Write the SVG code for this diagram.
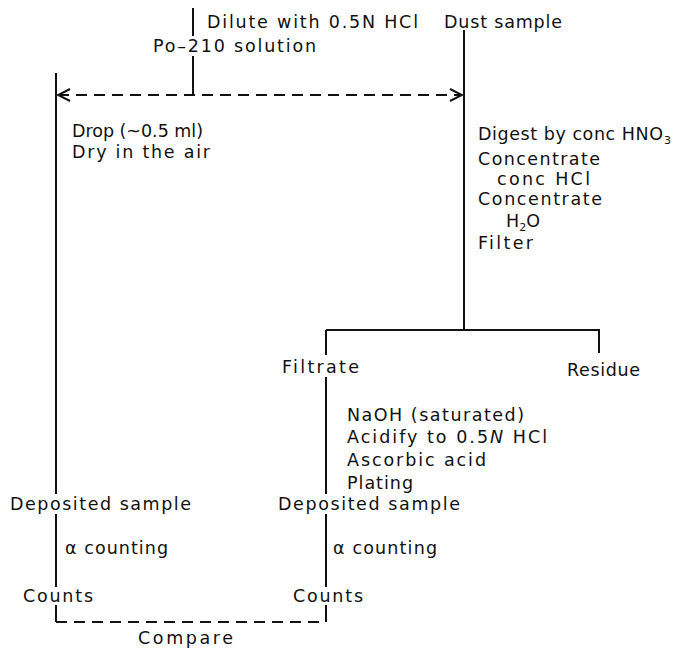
<svg xmlns="http://www.w3.org/2000/svg" width="693" height="648" viewBox="0 0 693 648">
<style>
  text { font-family: "DejaVu Sans", "Liberation Sans", sans-serif; font-size: 17.5px; fill: #111; }
  .ln { stroke: #111; stroke-width: 2; fill: none; }
  .dash { stroke: #111; stroke-width: 2; fill: none; stroke-dasharray: 11 7; }
  .sub { font-size: 11px; }
</style>
<defs>
  <marker id="chev" viewBox="0 0 14 14" refX="13" refY="7" markerWidth="14" markerHeight="14" markerUnits="userSpaceOnUse" orient="auto-start-reverse">
    <path d="M1,1 L13,7 L1,13" fill="none" stroke="#111" stroke-width="2"/>
  </marker>
</defs>
<rect width="693" height="648" fill="#fff"/>

<g id="connectors">
  <!-- top feed line -->
  <path class="ln" d="M193,8 V36 M193,56 V95"/>
  <!-- dust sample main line -->
  <path class="ln" d="M464,30 V330"/>
  <!-- dashed arrow -->
  <path class="dash" d="M58,95 H462" marker-start="url(#chev)" marker-end="url(#chev)"/>
  <!-- left branch -->
  <path class="ln" d="M56,73 V494 M56,514 V587 M56,605 V622"/>
  <!-- filter split -->
  <path class="ln" d="M326,330 H599 V353"/>
  <!-- filtrate branch -->
  <path class="ln" d="M326,330 V355 M326,377 V494 M326,514 V587 M326,605 V622"/>
  <!-- compare dashed -->
  <path class="dash" d="M56,622 H326"/>
</g>

<g id="dilute">
  <text x="207" y="28" textLength="211" lengthAdjust="spacing">Dilute with 0.5N HCl</text>
</g>
<g id="dust-sample">
  <text x="444" y="28" textLength="118" lengthAdjust="spacing">Dust sample</text>
</g>
<g id="po210">
  <text x="153" y="52" textLength="163" lengthAdjust="spacing">Po–210 solution</text>
</g>
<g id="drop-steps">
  <text x="72" y="137" textLength="131" lengthAdjust="spacing">Drop (~0.5 ml)</text>
  <text x="72" y="158" textLength="138" lengthAdjust="spacing">Dry in the air</text>
</g>
<g id="digest-steps">
  <text x="478" y="140" textLength="185" lengthAdjust="spacing">Digest by conc HNO</text>
  <text x="664" y="144" class="sub">3</text>
  <text x="478" y="165" textLength="122" lengthAdjust="spacing">Concentrate</text>
  <text x="497" y="185" textLength="93" lengthAdjust="spacing">conc HCl</text>
  <text x="478" y="205" textLength="124" lengthAdjust="spacing">Concentrate</text>
  <text x="506" y="227">H<tspan class="sub" dy="4">2</tspan><tspan dy="-4">O</tspan></text>
  <text x="478" y="249" textLength="55" lengthAdjust="spacing">Filter</text>
</g>
<g id="filtrate">
  <text x="282" y="373" textLength="77" lengthAdjust="spacing">Filtrate</text>
</g>
<g id="residue">
  <text x="567" y="376" textLength="73" lengthAdjust="spacing">Residue</text>
</g>
<g id="plating-steps">
  <text x="347" y="421" textLength="177" lengthAdjust="spacing">NaOH (saturated)</text>
  <text x="347" y="443" textLength="200" lengthAdjust="spacing">Acidify to 0.5<tspan font-style="italic">N</tspan> HCl</text>
  <text x="347" y="466" textLength="139" lengthAdjust="spacing">Ascorbic acid</text>
  <text x="347" y="489" textLength="66" lengthAdjust="spacing">Plating</text>
</g>
<g id="deposited-left">
  <text x="10" y="510" textLength="181" lengthAdjust="spacing">Deposited sample</text>
</g>
<g id="deposited-right">
  <text x="278" y="510" textLength="182" lengthAdjust="spacing">Deposited sample</text>
</g>
<g id="counting-left">
  <text x="65" y="554" textLength="103" lengthAdjust="spacing">α counting</text>
</g>
<g id="counting-right">
  <text x="333" y="554" textLength="104" lengthAdjust="spacing">α counting</text>
</g>
<g id="counts-left">
  <text x="23" y="602" textLength="70" lengthAdjust="spacing">Counts</text>
</g>
<g id="counts-right">
  <text x="293" y="602" textLength="70" lengthAdjust="spacing">Counts</text>
</g>
<g id="compare">
  <text x="138" y="644" textLength="95" lengthAdjust="spacing">Compare</text>
</g>
</svg>
